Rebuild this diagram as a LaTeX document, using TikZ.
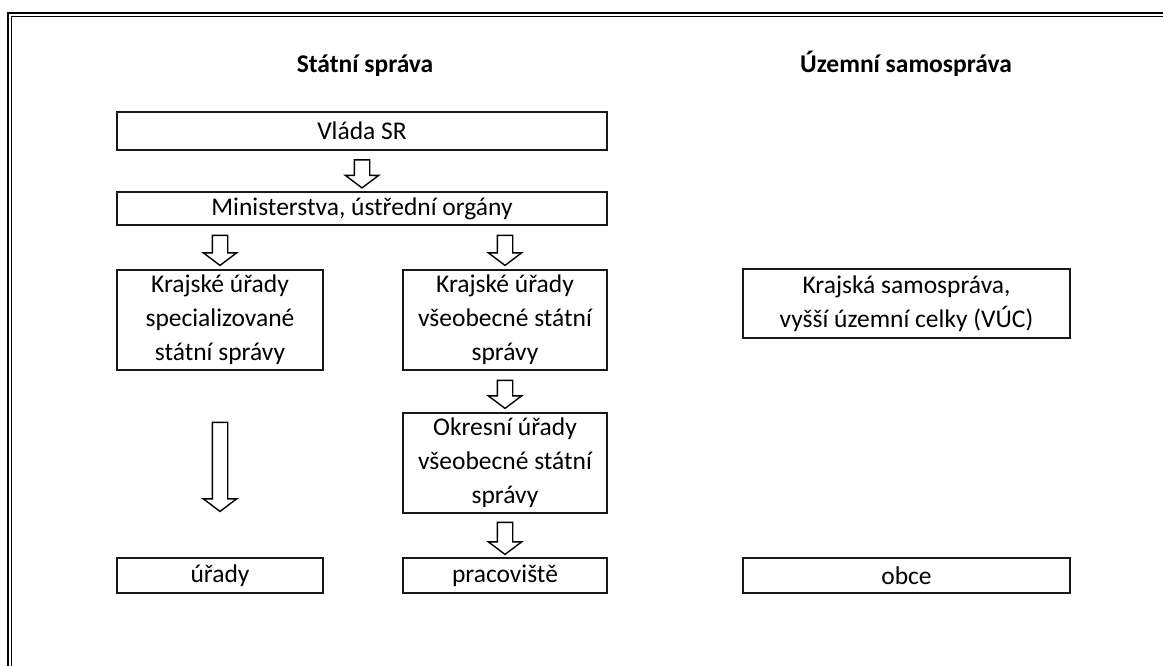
\documentclass[tikz,border=0pt]{standalone}
\usepackage{fontspec}
\setmainfont{Carlito}
\usetikzlibrary{shapes.arrows,calc}
\begin{document}
\begin{tikzpicture}[x=1pt,y=-1pt,
  box/.style={draw=black!90, line width=1.4pt, inner sep=0pt, align=center,
    font=\fontsize{25.5}{34}\selectfont},
  title/.style={anchor=base, inner sep=0pt, font=\fontsize{25.5}{34}\selectfont\bfseries},
  downarrow/.style={single arrow, draw=black, line width=1.4pt, shape border rotate=270,
    inner sep=7pt, single arrow head extend=9pt, single arrow tip angle=106,
    minimum height=#1},
  downarrow/.default=29,
  frameline/.style={draw=black, line width=1.3pt}
]
\useasboundingbox (0,0) rectangle (1163,666);
\clip (0,0) rectangle (1163,666);
% outer double frame
\draw[frameline] (8,13) rectangle (1200,700);
\draw[frameline] (11.5,16.5) rectangle (1200,700);

% titles
\node[title] (t1) at (365,73) {Státní správa};
\node[title] (t2) at (906,73) {Územní samospráva};

% boxes
\node[box, minimum width=490pt, minimum height=38pt] (vlada) at (362,131) {Vláda SR};
\node[box, minimum width=490pt, minimum height=33pt] (min) at (362,208.5) {Ministerstva, ústřední orgány};
\node[box, minimum width=206pt, minimum height=100pt] (kspec) at (220,320) {Krajské úřady\\specializované\\státní správy};
\node[box, minimum width=204pt, minimum height=100pt] (kvseo) at (505,320) {Krajské úřady\\všeobecné státní\\správy};
\node[box, minimum width=204pt, minimum height=100pt] (okres) at (505,463) {Okresní úřady\\všeobecné státní\\správy};
\node[box, minimum width=206pt, minimum height=35pt] (urady) at (220,575.5) {úřady};
\node[box, minimum width=204pt, minimum height=35pt] (prac) at (505,575.5) {pracoviště};
\node[box, minimum width=327pt, minimum height=69pt] (ksam) at (906.5,303.5) {Krajská samospráva,\\vyšší územní celky (VÚC)};
\node[box, minimum width=327pt, minimum height=35pt] (obce) at (906.5,575.5) {obce};

% block arrows between boxes
\node[downarrow=28] (a1) at ($(vlada.south)!0.5!(min.north)$) {};
\node[downarrow=30] (a2) at ($(kspec.north)!0.5!(kspec.north|-min.south)$) {};
\node[downarrow=30] (a3) at ($(kvseo.north)!0.5!(kvseo.north|-min.south)$) {};
\node[downarrow=28] (a4) at ($(kvseo.south)!0.5!(okres.north)$) {};
\node[downarrow=32] (a5) at ($(okres.south)!0.5!(prac.north)$) {};
\node[downarrow=89] (a6) at ($(kspec.south)!0.5!(urady.north)$) {};
\end{tikzpicture}
\end{document}
